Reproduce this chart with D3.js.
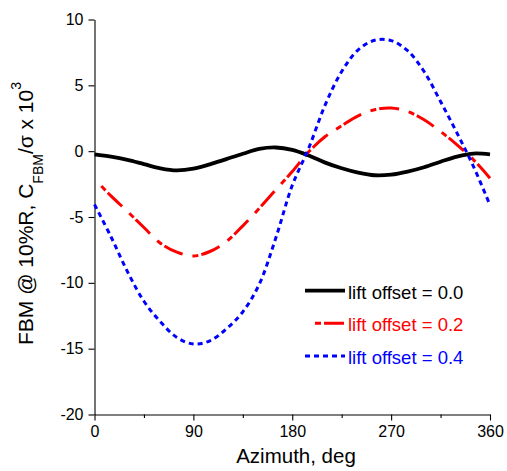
<!DOCTYPE html>
<html>
<head>
<meta charset="utf-8">
<script src="https://cdn.jsdelivr.net/npm/d3@7"></script>
<style>
  html, body { margin: 0; padding: 0; background: #fff; }
  svg { display: block; font-family: "Liberation Sans", Arial, sans-serif; }
</style>
</head>
<body>
<svg id="chart" width="507" height="471"></svg>
<script>
// Azimuth stations, degrees
const azimuth = [0, 15, 30, 45, 60, 75, 90, 105, 120, 135, 150, 165, 180,
                 195, 210, 225, 240, 255, 270, 285, 300, 315, 330, 345, 360];

// FBM coefficient (x 10^3) for each lift offset
const offset00 = [-0.25, -0.42, -0.66, -0.98, -1.30, -1.46, -1.33, -1.00, -0.60, -0.20, 0.17, 0.28, 0.10,
                  -0.33, -0.87, -1.30, -1.63, -1.83, -1.78, -1.55, -1.22, -0.80, -0.41, -0.18, -0.25];
const offset02 = [-2.10, -3.40, -4.58, -5.80, -6.99, -7.67, -7.96, -7.62, -6.87, -5.67, -4.34, -2.94, -1.55,
                  -0.05, 1.11, 1.93, 2.68, 3.15, 3.28, 3.01, 2.38, 1.49, 0.48, -0.66, -2.05];
const offset04 = [-4.05, -6.50, -9.15, -11.40, -12.96, -14.15, -14.65, -14.40, -13.50, -12.20, -10.10, -6.60, -2.60,
                  0.23, 3.52, 6.05, 7.70, 8.42, 8.40, 7.63, 6.05, 3.77, 1.37, -1.17, -4.10];

const seriesNames = ["lift offset = 0.0", "lift offset = 0.2", "lift offset = 0.4"];
const seriesColors = ["#000000", "#ff0000", "#0000ff"];

const xTicks = [0, 90, 180, 270, 360];
const xMinorTicks = [45, 135, 225, 315];
const yTicks = [10, 5, 0, -5, -10, -15, -20];

const svg = d3.select("#chart");

const x = d3.scaleLinear().domain([0, 360]).range([94.5, 490]);
const y = d3.scaleLinear().domain([-20, 10]).range([414.5, 19.5]);

// Plain hyphen-minus for negative tick labels
const plain = d => String(d);

// Axes
const xAxis = d3.axisBottom(x).tickValues(xTicks).tickFormat(plain)
  .tickSizeInner(6).tickSizeOuter(0).tickPadding(5.5);
const gx = svg.append("g").attr("transform", `translate(0,${y(-20)})`).call(xAxis);
svg.append("g").attr("transform", `translate(0,${y(-20)})`)
  .call(d3.axisBottom(x).tickValues(xMinorTicks).tickFormat("").tickSizeInner(3.5).tickSizeOuter(0))
  .select(".domain").remove();

const yAxis = d3.axisLeft(y).tickValues(yTicks).tickFormat(plain)
  .tickSizeInner(6).tickSizeOuter(0).tickPadding(5);
const gy = svg.append("g").attr("transform", `translate(${x(0)},0)`).call(yAxis);

[gx, gy].forEach(g => {
  g.selectAll("text").attr("font-size", 16).attr("font-family", "Liberation Sans, Arial, sans-serif").attr("fill", "#000");
  g.selectAll("line, path").attr("stroke", "#000").attr("stroke-width", 1.1);
});
svg.selectAll("g line").attr("stroke", "#000").attr("stroke-width", 1.1);

// Curves
const styles = [
  { width: 3.8, dash: null, offset: 0 },
  { width: 3, dash: "6,3,20,10", offset: 29 },
  { width: 3, dash: "5,4", offset: 0 }
];
const allSeries = [offset00, offset02, offset04];

const line = d3.line()
  .x((d, i) => x(azimuth[i]))
  .y(d => y(d))
  .curve(d3.curveCatmullRom.alpha(0.5));

allSeries.forEach((vals, k) => {
  svg.append("path")
    .datum(vals)
    .attr("d", line)
    .attr("fill", "none")
    .attr("stroke", seriesColors[k])
    .attr("stroke-width", styles[k].width)
    .attr("stroke-dasharray", styles[k].dash)
    .attr("stroke-dashoffset", styles[k].offset)
    .attr("stroke-linejoin", "round");
});

// Legend
const legendRows = [290.7, 323.3, 356];
seriesNames.forEach((name, k) => {
  const ly = legendRows[k];
  svg.append("line")
    .attr("x1", 305).attr("x2", 345).attr("y1", ly).attr("y2", ly)
    .attr("stroke", seriesColors[k])
    .attr("stroke-width", styles[k].width)
    .attr("stroke-dasharray", styles[k].dash)
    .attr("stroke-dashoffset", styles[k].offset);
  svg.append("text")
    .attr("x", 348).attr("y", ly + 7.8)
    .attr("font-size", 18.5)
    .attr("fill", seriesColors[k])
    .text(name);
});

// Axis titles
svg.append("text")
  .attr("x", 296).attr("y", 462.5)
  .attr("text-anchor", "middle")
  .attr("font-size", 20.5)
  .attr("fill", "#000")
  .text("Azimuth, deg");

const yTitle = svg.append("text")
  .attr("transform", "translate(32.5,213.5) rotate(-90)")
  .attr("text-anchor", "middle")
  .attr("font-size", 21)
  .attr("fill", "#000");
yTitle.append("tspan").text("FBM @ 10%R, C");
yTitle.append("tspan").attr("font-size", 14).attr("dy", 10).text("FBM");
yTitle.append("tspan").attr("dy", -10).text("/σ x 10");
yTitle.append("tspan").attr("font-size", 14).attr("dy", -12).text("3");
</script>
</body>
</html>
